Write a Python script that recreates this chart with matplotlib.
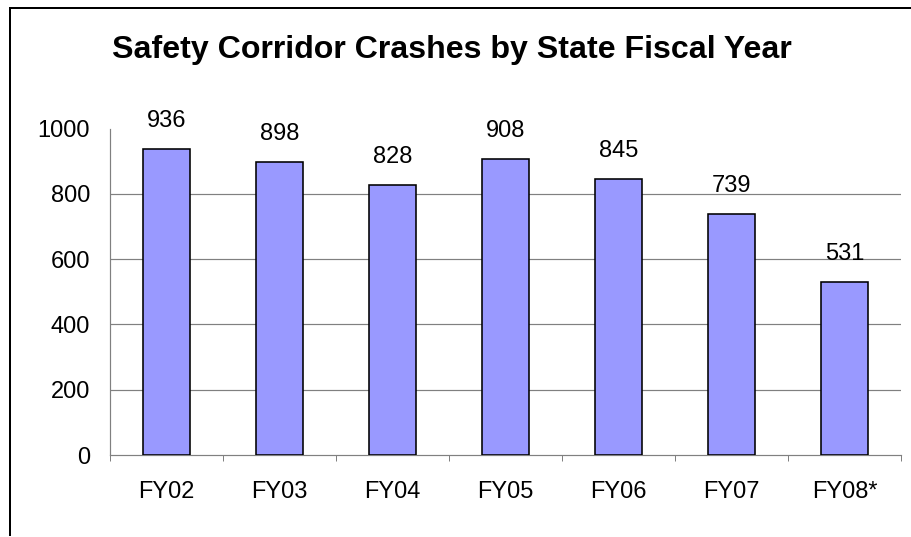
import matplotlib
matplotlib.use("Agg")
import matplotlib.pyplot as plt
from matplotlib.lines import Line2D
import numpy as np

# Crash counts per state fiscal year
years = ["FY02", "FY03", "FY04", "FY05", "FY06", "FY07", "FY08*"]
crashes = [936, 898, 828, 908, 845, 739, 531]
y_ticks = [0, 200, 400, 600, 800, 1000]

W, H, DPI = 911, 537, 100
px = 72.0 / DPI  # points per pixel

plt.rcParams["font.family"] = ["Liberation Sans", "DejaVu Sans"]

fig = plt.figure(figsize=(W / DPI, H / DPI), dpi=DPI, facecolor="white")
ax = fig.add_axes([110 / W, 82 / H, 791 / W, 326.5 / H])

x = np.arange(len(years))
ax.bar(x, crashes, width=0.41, color="#9999FF", edgecolor="black",
       linewidth=1.6 * px, zorder=3)

for xi, v in zip(x, crashes):
    ax.annotate(str(v), (xi, v), xytext=(0, 22 * px), textcoords="offset points",
                ha="center", va="baseline", fontsize=17, color="black")

ax.set_xlim(-0.5, len(years) - 0.5)
ax.set_ylim(0, 1000)
ax.set_yticks(y_ticks)
ax.set_yticklabels([str(t) for t in y_ticks])
ax.set_xticks(x)
ax.set_xticklabels(years)
ax.set_xticks(np.arange(len(years) + 1) - 0.5, minor=True)

ax.tick_params(axis="y", length=0, pad=20 * px, labelsize=17)
ax.tick_params(axis="x", which="major", length=0, pad=26 * px, labelsize=17)
ax.tick_params(axis="x", which="minor", length=6 * px, width=1 * px,
               color="#808080", direction="out")

for yv in y_ticks[1:-1]:
    ax.axhline(yv, color="#808080", linewidth=1.2 * px, zorder=1)

for side in ("top", "right"):
    ax.spines[side].set_visible(False)
for side in ("left", "bottom"):
    ax.spines[side].set_color("#808080")
    ax.spines[side].set_linewidth(1.2 * px)

fig.text(451.5 / W, 1 - 58 / H, "Safety Corridor Crashes by State Fiscal Year",
         ha="center", va="baseline", fontsize=23.1, fontweight="bold")

# Chart area frame (left and top edges)
fig.add_artist(Line2D([9.5 / W, 9.5 / W], [2 / H, 1 - 7.5 / H], transform=fig.transFigure,
                      color="black", linewidth=2 * px))
fig.add_artist(Line2D([9.5 / W, 1], [1 - 7.5 / H, 1 - 7.5 / H], transform=fig.transFigure,
                      color="black", linewidth=2 * px))

fig.savefig("out.png", dpi=DPI, facecolor="white")
